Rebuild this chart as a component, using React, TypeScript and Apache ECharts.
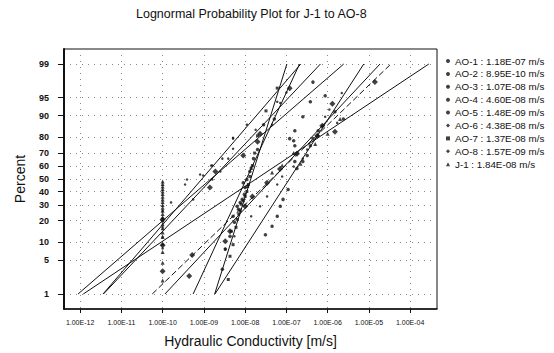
import React, { useEffect, useRef } from "react";
import * as echarts from "echarts";

const TITLE = "Lognormal Probability Plot for J-1 to AO-8";
const X_NAME = "Hydraulic Conductivity [m/s]";
const Y_NAME = "Percent";

const SERIES_NAMES = ["AO-1", "AO-2", "AO-3", "AO-4", "AO-5", "AO-6", "AO-7", "AO-8", "J-1"];
// geometric means from legend (m/s)
const GEO_MEANS = [1.18e-7, 8.95e-10, 1.07e-8, 4.6e-8, 1.48e-9, 4.38e-8, 1.37e-8, 1.57e-9, 1.84e-8];
// log10 standard deviations of the fitted lines (read from slopes)
const LOG_SIGMAS = [0.775, 1.03, 0.554, 1.12, 1.384, 1.243, 0.376, 1.13, 1.8];

const PERCENT_TICKS = [1, 5, 10, 20, 30, 40, 50, 60, 70, 80, 90, 95, 99];
const K_TICKS = [1e-12, 1e-11, 1e-10, 1e-9, 1e-8, 1e-7, 1e-6, 1e-5, 1e-4];
const FIT_PERCENTS = [1, 99];

// [K (m/s), percent]
const AO1_POINTS = [
  [3.1e-8, 13], [4.5e-8, 17], [6.0e-8, 22.5], [7.1e-8, 29], [8.3e-8, 34], [1.1e-7, 41.6],
  [1.8e-7, 58.4], [1.6e-7, 63.8], [2.5e-7, 63.8], [3.2e-7, 68.2], [1.6e-7, 75], [3.8e-7, 75],
  [1.2e-7, 79.3], [1.5e-7, 78.1], [4.4e-7, 79.3], [1.6e-7, 83.6], [5.9e-7, 83.6], [2.5e-7, 89.6],
  [2.4e-6, 88.8], [1.5e-6, 91.3], [3.8e-7, 94.1], [8.7e-7, 95.4], [4.4e-7, 97.5],
];
const AO2_POINTS = [
  [1.0e-10, 12], [1.0e-10, 20.7], [1.6e-10, 31.8], [3.5e-10, 45.6], [3.9e-10, 49.6],
  [9.6e-10, 52.8], [8.1e-10, 53.6], [1.5e-9, 60.7], [2.8e-9, 66], [5.1e-9, 79.3],
  [1.1e-8, 86.4], [6.0e-8, 94.1],
];
const AO3_POINTS = [
  [2.8e-9, 3.4], [3.3e-9, 7.8], [4.3e-9, 12.3], [5.5e-9, 19.1], [5.1e-9, 22.5], [6.9e-9, 27],
  [6.4e-9, 29], [7.6e-9, 31.8], [8.5e-9, 34], [9.6e-9, 37.8], [1.0e-8, 43.2], [9.0e-9, 47],
  [1.1e-8, 49.6], [1.3e-8, 56], [1.6e-8, 66], [2.0e-8, 72.4], [2.8e-8, 86.4], [5.1e-8, 88.8],
];
const AO4_POINTS = [
  [3.3e-9, 7.8], [5.5e-9, 12.3], [1.4e-8, 22.5], [2.3e-8, 29], [3.4e-8, 36.2], [6.0e-8, 45.6],
  [7.9e-8, 52], [1.5e-7, 59.9], [2.5e-7, 66], [3.2e-7, 72.4], [5.9e-7, 80.9], [7.4e-7, 85.9],
  [8.7e-7, 89.6], [1.7e-6, 87.2], [1.1e-6, 92], [2.2e-6, 95.9],
];
const AO5_POINTS = [
  [1.0e-10, 8], [1.0e-10, 16.4], [1.0e-10, 26], [5.5e-10, 34], [1.6e-9, 49.6], [2.5e-9, 56],
  [1.6e-9, 60.7], [3.9e-9, 66], [5.1e-9, 73], [5.1e-9, 79.8], [1.8e-8, 84], [4.5e-8, 86.4],
  [7.1e-8, 93.8], [1.0e-7, 96],
];
const AO6_POINTS = [
  [4.4e-10, 2.5], [5.2e-10, 6.2], [3.3e-9, 10.4], [4.3e-9, 14.5], [1.0e-8, 29], [1.5e-8, 36.2],
  [3.4e-8, 47], [7.0e-8, 58], [1.8e-7, 69.6], [5.6e-7, 80.9], [1.5e-6, 83.1], [7.4e-7, 85.9],
  [1.3e-6, 93.6], [1.4e-5, 97.5],
];
const AO7_POINTS = [
  [3.9e-9, 2.1], [4.3e-9, 5.9], [5.1e-9, 9.2], [4.6e-9, 14.5], [6.0e-9, 16.4], [6.4e-9, 20.7],
  [7.0e-9, 24], [7.6e-9, 26], [8.0e-9, 30.5], [9.0e-9, 33], [1.0e-8, 36.2], [1.1e-8, 40],
  [1.15e-8, 44], [1.2e-8, 45.6], [1.3e-8, 52], [1.4e-8, 58.4], [1.5e-8, 60.7], [1.7e-8, 70],
  [2.0e-8, 80.9], [3.2e-8, 91.6], [6.0e-8, 96.7],
];
const AO8_POINTS = [
  [1.0e-10, 3.1], [1.0e-10, 9], [1.0e-10, 20.7], [1.4e-9, 43.2], [1.9e-9, 56], [9.0e-9, 68.2],
  [2.0e-8, 77.5], [2.3e-8, 82], [1.2e-7, 96.7],
];
const J1_POINTS = [
  [1.0e-10, 2], [1.0e-10, 4.5], [1.0e-10, 7], [1.0e-10, 9.5], [1.0e-10, 12], [1.0e-10, 14],
  [1.0e-10, 16], [1.0e-10, 18], [1.0e-10, 20], [1.0e-10, 22], [1.0e-10, 24], [1.0e-10, 26],
  [1.0e-10, 28], [1.0e-10, 30], [1.0e-10, 32], [1.0e-10, 34], [1.0e-10, 36], [1.0e-10, 38],
  [1.0e-10, 40], [1.0e-10, 42], [1.0e-10, 44], [1.0e-10, 46], [1.0e-10, 48],
  [4.5e-8, 55.2], [7.9e-8, 60.7], [2.2e-7, 62.2], [1.5e-7, 70], [5.0e-7, 76], [1.0e-6, 82],
  [2.0e-6, 88.8],
];

const POINT_SETS = [AO1_POINTS, AO2_POINTS, AO3_POINTS, AO4_POINTS, AO5_POINTS, AO6_POINTS, AO7_POINTS, AO8_POINTS, J1_POINTS];

const MARKERS: { symbol: string; size: number }[] = [
  { symbol: "circle", size: 3.5 },
  { symbol: "circle", size: 2.5 },
  { symbol: "circle", size: 3.5 },
  { symbol: "circle", size: 2.5 },
  { symbol: "circle", size: 2.5 },
  { symbol: "diamond", size: 6 },
  { symbol: "rect", size: 3 },
  { symbol: "diamond", size: 6 },
  { symbol: "triangle", size: 4 },
];
const LINE_TYPES: any[] = ["solid", "solid", "solid", "solid", "solid", [6, 3], "solid", "solid", "solid"];

function probit(pct: number): number {
  const p = pct / 100;
  const a = [-3.969683028665376e1, 2.209460984245205e2, -2.759285104469687e2, 1.38357751867269e2, -3.066479806614716e1, 2.506628277459239];
  const b = [-5.447609879822406e1, 1.615858368580409e2, -1.556989798598866e2, 6.680131188771972e1, -1.328068155288572e1];
  const c = [-7.784894002430293e-3, -3.223964580411365e-1, -2.400758277161838, -2.549732539343734, 4.374664141464968, 2.938163982698783];
  const d = [7.784695709041462e-3, 3.224671290700398e-1, 2.445134137142996, 3.754408661907416];
  const pl = 0.02425;
  if (p < pl) {
    const q = Math.sqrt(-2 * Math.log(p));
    return (((((c[0] * q + c[1]) * q + c[2]) * q + c[3]) * q + c[4]) * q + c[5]) / ((((d[0] * q + d[1]) * q + d[2]) * q + d[3]) * q + 1);
  }
  if (p <= 1 - pl) {
    const q = p - 0.5;
    const r = q * q;
    return ((((((a[0] * r + a[1]) * r + a[2]) * r + a[3]) * r + a[4]) * r + a[5]) * q) / (((((b[0] * r + b[1]) * r + b[2]) * r + b[3]) * r + b[4]) * r + 1);
  }
  const q = Math.sqrt(-2 * Math.log(1 - p));
  return -(((((c[0] * q + c[1]) * q + c[2]) * q + c[3]) * q + c[4]) * q + c[5]) / ((((d[0] * q + d[1]) * q + d[2]) * q + d[3]) * q + 1);
}

function sci(v: number): string {
  const [m, e] = v.toExponential(2).split("e");
  const n = parseInt(e, 10);
  return m + "E" + (n < 0 ? "-" : "+") + String(Math.abs(n)).padStart(2, "0");
}

const FONT = "'Liberation Sans', Arial, Helvetica, sans-serif";
const INK = "#111";

export default function App() {
  const ref = useRef<HTMLDivElement>(null);
  useEffect(() => {
    if (!ref.current) return;
    const chart = echarts.init(ref.current, undefined, { renderer: "svg" });
    const xTickVals = K_TICKS.map((k) => Math.log10(k));
    const yTickVals = PERCENT_TICKS.map((p) => probit(p));

    const scatterSeries = SERIES_NAMES.map((name, i) => ({
      name,
      type: "scatter",
      symbol: MARKERS[i].symbol,
      symbolSize: MARKERS[i].size,
      itemStyle: { color: INK },
      data: POINT_SETS[i].map(([k, p]) => [Math.log10(k), probit(p)]),
      z: 3,
    }));
    const fitSeries = SERIES_NAMES.map((name, i) => ({
      name: "fit " + name,
      type: "line",
      symbol: "none",
      silent: true,
      lineStyle: { color: INK, width: 1, type: LINE_TYPES[i] },
      data: FIT_PERCENTS.map((p) => [Math.log10(GEO_MEANS[i]) + LOG_SIGMAS[i] * probit(p), probit(p)]),
      z: 2,
    }));

    chart.setOption({
      animation: false,
      backgroundColor: "#fff",
      textStyle: { fontFamily: FONT },
      title: {
        text: TITLE,
        left: 131,
        top: 2,
        textStyle: { fontSize: 12.5, fontWeight: "normal", color: INK, fontFamily: FONT },
      },
      legend: {
        orient: "vertical",
        left: 441,
        top: 51,
        itemWidth: 4,
        itemHeight: 4,
        itemGap: 2.9,
        data: SERIES_NAMES,
        formatter: (name: string) => {
          const i = SERIES_NAMES.indexOf(name);
          return name + " : " + sci(GEO_MEANS[i]) + " m/s";
        },
        textStyle: { fontSize: 9.8, color: INK, fontFamily: FONT, lineHeight: 10 },
      },
      grid: {
        left: 64,
        right: 117,
        top: 49,
        bottom: 43,
        show: true,
        borderColor: INK,
        borderWidth: 1,
      },
      xAxis: {
        type: "value",
        min: -12.39,
        max: -3.35,
        name: X_NAME,
        nameLocation: "middle",
        nameGap: 25,
        nameTextStyle: { fontSize: 14, color: INK, fontFamily: FONT },
        axisLine: { show: true, onZero: false, lineStyle: { color: INK, width: 1.5 } },
        axisTick: { show: true, length: 4, customValues: xTickVals, lineStyle: { color: INK } },
        axisLabel: {
          customValues: xTickVals,
          fontSize: 7,
          color: INK,
          margin: 10,
          formatter: (v: number) => sci(Math.pow(10, Math.round(v))),
        },
        splitLine: { show: true, customValues: xTickVals, lineStyle: { color: "#888", type: [1, 5], width: 1 } },
      },
      yAxis: {
        type: "value",
        min: -2.63,
        max: 2.63,
        name: Y_NAME,
        nameLocation: "middle",
        nameGap: 37,
        nameTextStyle: { fontSize: 14, color: INK, fontFamily: FONT },
        axisLine: { show: true, onZero: false, lineStyle: { color: INK, width: 2 } },
        axisTick: { show: true, length: 6, customValues: yTickVals, lineStyle: { color: INK } },
        axisLabel: {
          customValues: yTickVals,
          fontSize: 9,
          fontWeight: "bold",
          color: INK,
          margin: 15,
          formatter: (v: number) => {
            const p = PERCENT_TICKS.find((t) => Math.abs(probit(t) - v) < 1e-6);
            return p === undefined ? "" : String(p);
          },
        },
        splitLine: { show: true, customValues: yTickVals, lineStyle: { color: "#888", type: [1, 5], width: 1 } },
      },
      series: [...fitSeries, ...scatterSeries],
    });
    return () => chart.dispose();
  }, []);
  return <div ref={ref} style={{ position: "fixed", left: 0, top: 0, width: 554, height: 353, background: "#fff" }} />;
}
